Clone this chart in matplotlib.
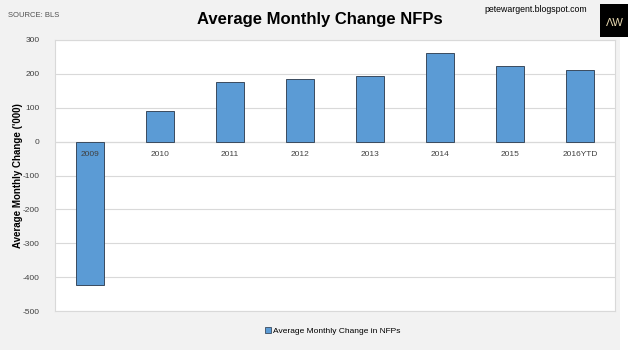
import numpy as np
import matplotlib.pyplot as plt
from matplotlib.patches import Patch, Rectangle

years = ['2009', '2010', '2011', '2012', '2013', '2014', '2015', '2016YTD']
avg_change = [-423, 89, 175, 184, 193, 260, 223, 210]
y_ticks = [300, 200, 100, 0, -100, -200, -300, -400, -500]

plt.rcParams['font.family'] = ['Liberation Sans', 'DejaVu Sans']

fig = plt.figure(figsize=(6.4, 3.5), dpi=100, facecolor='#f2f2f2')
# white strip at far right
fig.patches.append(Rectangle((0.969, 0), 0.031, 1, transform=fig.transFigure,
                             facecolor='white', edgecolor='none', zorder=0))

ax = fig.add_axes([0.086, 0.111, 0.875, 0.775])
ax.set_facecolor('white')

x = np.arange(len(years))
ax.bar(x, avg_change, width=0.4, color='#5b9bd5', edgecolor='#3a4a5e', linewidth=0.7, zorder=3)

ax.set_xlim(-0.5, len(years) - 0.5)
ax.set_ylim(-500, 300)
ax.set_yticks(y_ticks)
ax.set_yticklabels([str(v) for v in y_ticks], fontsize=6, color='#404040')
ax.tick_params(axis='y', length=0, pad=11)
ax.set_xticks([])
ax.grid(axis='y', color='#d9d9d9', linewidth=0.8, zorder=0)
ax.axhline(0, color='#c8c8c8', linewidth=0.8, zorder=1)
for s in ax.spines.values():
    s.set_color('#d9d9d9')
    s.set_linewidth(0.8)

# category labels sit just under the zero line
for xi, lab in zip(x, years):
    ax.annotate(lab, (xi, 0), xytext=(0, -7), textcoords='offset points',
                ha='center', va='top', fontsize=6, color='#404040', zorder=4)

ax.set_ylabel("Average Monthly Change ('000)", fontsize=7, fontweight='bold')
ax.yaxis.set_label_coords(-0.057, 0.5)

fig.text(0.5, 0.945, 'Average Monthly Change NFPs', ha='center', va='center',
         fontsize=12, fontweight='bold')
fig.text(0.012, 0.955, 'SOURCE: BLS', ha='left', va='center', fontsize=5.5, color='#505050')
fig.text(0.918, 0.972, 'petewargent.blogspot.com', ha='right', va='center', fontsize=6.3)

# AW logo box
fig.patches.append(Rectangle((0.938, 0.895), 0.044, 0.095, transform=fig.transFigure,
                             facecolor='black', edgecolor='none', zorder=5))
fig.text(0.960, 0.935, 'ΛW', ha='center', va='center', fontsize=8, color='#e8d9b0', zorder=6)

fig.legend(handles=[Patch(facecolor='#5b9bd5', edgecolor='#3a4a5e', linewidth=0.6)],
           labels=['Average Monthly Change in NFPs'], loc='center', bbox_to_anchor=(0.52, 0.055),
           frameon=False, fontsize=6, handlelength=0.7, handleheight=0.7, handletextpad=0.3)

fig.savefig('out.png', dpi=100, facecolor=fig.get_facecolor())
